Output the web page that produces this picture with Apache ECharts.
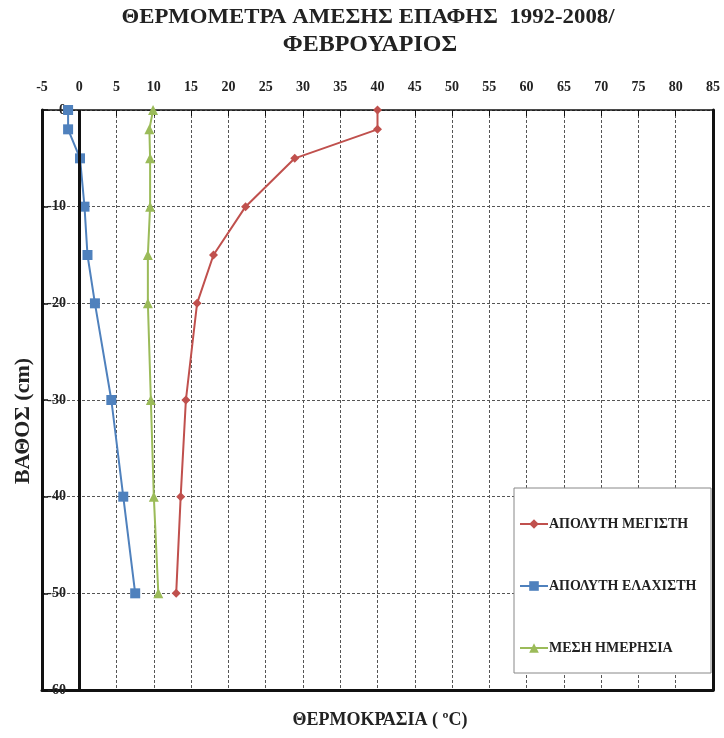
<!DOCTYPE html>
<html>
<head>
<meta charset="utf-8">
<script src="https://cdn.jsdelivr.net/npm/echarts@6/dist/echarts.min.js"></script>
<style>html,body{margin:0;padding:0;background:#fff}#c{width:724px;height:738px}</style>
</head>
<body>
<div id="c"></div>
<script>
const depths = [0, -2, -5, -10, -15, -20, -30, -40, -50];
const absMax = [40, 40, 28.9, 22.3, 18.0, 15.8, 14.3, 13.6, 13.0];
const absMin = [-1.5, -1.5, 0.1, 0.7, 1.1, 2.1, 4.3, 5.9, 7.5];
const meanDaily = [9.9, 9.4, 9.5, 9.5, 9.2, 9.2, 9.6, 10.0, 10.6];
const seriesNames = ['ΑΠΟΛΥΤΗ ΜΕΓΙΣΤΗ', 'ΑΠΟΛΥΤΗ ΕΛΑΧΙΣΤΗ', 'ΜΕΣΗ ΗΜΕΡΗΣΙΑ'];
const titleLine1 = 'ΘΕΡΜΟΜΕΤΡΑ ΑΜΕΣΗΣ ΕΠΑΦΗΣ  1992-2008/';
const titleLine2 = 'ΦΕΒΡΟΥΑΡΙΟΣ';
const xTitle = 'ΘΕΡΜΟΚΡΑΣΙΑ ( ºC)';
const yTitle = 'ΒΑΘΟΣ (cm)';
const xMin = -5, xMax = 85, xStep = 5;
const yMin = -60, yMax = 0, yStep = 10;

const FONT = "'Liberation Serif', 'DejaVu Serif', serif";
const pair = arr => depths.map((d, i) => [arr[i], d]);

const chart = echarts.init(document.getElementById('c'), null, {renderer: 'canvas'});
const gridLine = {show: true, lineStyle: {color: '#555', width: 1, type: [3, 2]}};

chart.setOption({
  animation: false,
  backgroundColor: '#fff',
  grid: {left: 42, right: 11, top: 110, bottom: 48, containLabel: false},
  xAxis: [
    {type: 'value', position: 'top', min: xMin, max: xMax, interval: xStep,
     axisLine: {onZero: false, lineStyle: {color: '#111', width: 1.5}},
     axisTick: {show: true, inside: true, length: 6, lineStyle: {color: '#111'}},
     axisLabel: {margin: 16, fontFamily: FONT, fontWeight: 'bold', fontSize: 14, color: '#222'},
     splitLine: gridLine},
    {type: 'value', position: 'bottom', min: xMin, max: xMax, interval: xStep,
     axisLine: {onZero: false, lineStyle: {color: '#111', width: 3}},
     axisTick: {show: false}, axisLabel: {show: false}, splitLine: {show: false}}
  ],
  yAxis: [
    {type: 'value', position: 'left', min: yMin, max: yMax, interval: yStep,
     axisLine: {onZero: false, lineStyle: {color: '#111', width: 3}},
     axisTick: {show: true, inside: true, length: 6, lineStyle: {color: '#111', width: 1.5}},
     axisLabel: {inside: true, align: 'right', margin: 24, fontFamily: FONT, fontWeight: 'bold', fontSize: 14, color: '#222'},
     splitLine: gridLine},
    {type: 'value', position: 'right', min: yMin, max: yMax, interval: yStep,
     axisLine: {onZero: false, lineStyle: {color: '#111', width: 3}},
     axisTick: {show: false}, axisLabel: {show: false}, splitLine: {show: false}}
  ],
  legend: {
    orient: 'vertical', left: 514, top: 512, itemGap: 48, itemWidth: 28, itemHeight: 12,
    z: 6,
    data: seriesNames,
    textStyle: {fontFamily: FONT, fontWeight: 'bold', fontSize: 14, color: '#222', padding: [0, 0, 0, -4]}
  },
  graphic: [
    {type: 'rect', z: 4, shape: {x: 514, y: 488, width: 197, height: 185},
     style: {fill: '#fff', stroke: '#888', lineWidth: 1}},
    {type: 'text', z: 4, x: 368, y: 18, scaleX: 1.14,
     style: {text: titleLine1, fontFamily: FONT, fontWeight: 'bold', fontSize: 20, fill: '#222',
             align: 'center', verticalAlign: 'middle'}},
    {type: 'text', z: 4, x: 370, y: 45,
     style: {text: titleLine2, fontFamily: FONT, fontWeight: 'bold', fontSize: 24, fill: '#222',
             align: 'center', verticalAlign: 'middle'}},
    {type: 'text', z: 4, x: 380, y: 720,
     style: {text: xTitle, fontFamily: FONT, fontWeight: 'bold', fontSize: 18, fill: '#222',
             align: 'center', verticalAlign: 'middle'}},
    {type: 'text', z: 4, x: 23, y: 421, rotation: Math.PI / 2,
     style: {text: yTitle, fontFamily: FONT, fontWeight: 'bold', fontSize: 22, fill: '#222',
             align: 'center', verticalAlign: 'middle'}}
  ],
  series: [
    {name: seriesNames[0], type: 'line', data: pair(absMax), symbol: 'diamond', symbolSize: 9,
     itemStyle: {color: '#C0504D'}, lineStyle: {width: 2, color: '#C0504D'},
     markLine: {silent: true, symbol: 'none', label: {show: false},
                lineStyle: {color: '#111', width: 3, type: 'solid'}, data: [{xAxis: 0}]}},
    {name: seriesNames[1], type: 'line', data: pair(absMin), symbol: 'rect', symbolSize: 10,
     itemStyle: {color: '#4F81BD'}, lineStyle: {width: 2, color: '#4F81BD'}},
    {name: seriesNames[2], type: 'line', data: pair(meanDaily), symbol: 'triangle', symbolSize: 10,
     itemStyle: {color: '#9BBB59'}, lineStyle: {width: 2, color: '#9BBB59'}}
  ]
});
</script>
</body>
</html>
